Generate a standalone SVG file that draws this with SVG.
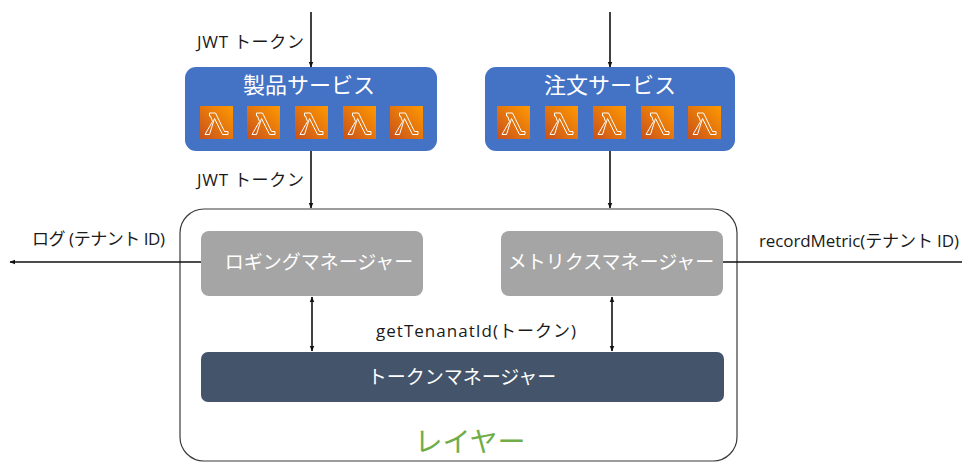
<svg xmlns="http://www.w3.org/2000/svg" xmlns:xlink="http://www.w3.org/1999/xlink" width="962" height="462" viewBox="0 0 962 462">
<style>
  text { font-family: "Noto Sans CJK JP", "Noto Sans", sans-serif; }
  .lbl { font-family: "Open Sans", "Noto Sans CJK JP", sans-serif; font-size: 17px; fill: #1a1a1a; }
  .title { font-size: 22px; fill: #ffffff; text-anchor: middle; }
  .mgr { font-size: 19px; fill: #ffffff; text-anchor: middle; }
  .svc { fill: #4472C4; }
  .gray { fill: #A5A5A5; }
  .dark { fill: #44546A; }
  .conn { stroke: #111111; stroke-width: 1.6; fill: none; }
  .layer { fill: #ffffff; stroke: #3a3a3a; stroke-width: 1.2; }
</style>
<defs>
  <marker id="ah" viewBox="0 0 10 10" refX="9" refY="5" markerWidth="6" markerHeight="6" orient="auto-start-reverse" markerUnits="userSpaceOnUse">
    <path d="M0,1 L10,5 L0,9 Z" fill="#111111"/>
  </marker>
  <linearGradient id="lg" x1="0" y1="1" x2="1" y2="0">
    <stop offset="0" stop-color="#C8511B"/>
    <stop offset="1" stop-color="#FF9900"/>
  </linearGradient>
  <g id="lambda">
    <rect x="0" y="0" width="33" height="33" fill="url(#lg)"/>
    <path d="M9.5,7 H15.5 L24.5,25.5 H28 V28.5 H22.5 L14.5,12.5 L9.5,28.5 H5 L12.5,15.5 L10.5,10 H9.5 Z" fill="none" stroke="#ffffff" stroke-width="1" stroke-linejoin="round"/>
  </g>
</defs>

<g id="layer">
  <rect class="layer" x="180" y="209" width="557" height="252" rx="24"/>
  <text x="470" y="452" font-size="28" fill="#70AD47" text-anchor="middle">レイヤー</text>
</g>

<g id="product-service">
  <rect class="svc" x="185" y="67" width="252" height="84" rx="11"/>
  <text class="title" x="309" y="93">製品サービス</text>
  <use xlink:href="#lambda" x="200" y="106"/>
  <use xlink:href="#lambda" x="247" y="106"/>
  <use xlink:href="#lambda" x="295" y="106"/>
  <use xlink:href="#lambda" x="343" y="106"/>
  <use xlink:href="#lambda" x="390" y="106"/>
</g>

<g id="order-service">
  <rect class="svc" x="485" y="67" width="250" height="84" rx="11"/>
  <text class="title" x="610" y="93">注文サービス</text>
  <use xlink:href="#lambda" x="497" y="106"/>
  <use xlink:href="#lambda" x="545" y="106"/>
  <use xlink:href="#lambda" x="593" y="106"/>
  <use xlink:href="#lambda" x="641" y="106"/>
  <use xlink:href="#lambda" x="688" y="106"/>
</g>

<g id="logging-manager">
  <rect class="gray" x="201" y="231" width="222" height="65" rx="8"/>
  <text class="mgr" x="319" y="269">ロギングマネージャー</text>
</g>

<g id="metrics-manager">
  <rect class="gray" x="501" y="231" width="222" height="65" rx="8"/>
  <text class="mgr" x="611" y="269">メトリクスマネージャー</text>
</g>

<g id="token-manager">
  <rect class="dark" x="201" y="352" width="523" height="50" rx="7"/>
  <text class="mgr" x="462" y="384">トークンマネージャー</text>
</g>

<g id="connectors">
  <line class="conn" x1="311" y1="12" x2="311" y2="67" marker-end="url(#ah)"/>
  <line class="conn" x1="610" y1="12" x2="610" y2="67" marker-end="url(#ah)"/>
  <line class="conn" x1="311" y1="151" x2="311" y2="208" marker-end="url(#ah)"/>
  <line class="conn" x1="610" y1="151" x2="610" y2="208" marker-end="url(#ah)"/>
  <line class="conn" x1="312" y1="297" x2="312" y2="351" marker-start="url(#ah)" marker-end="url(#ah)"/>
  <line class="conn" x1="612" y1="297" x2="612" y2="351" marker-start="url(#ah)" marker-end="url(#ah)"/>
  <line class="conn" x1="201" y1="262" x2="10" y2="262" marker-end="url(#ah)"/>
  <line class="conn" x1="723" y1="262" x2="962" y2="262"/>
</g>

<g id="labels">
  <text class="lbl" x="197" y="48" textLength="107" lengthAdjust="spacing">JWT トークン</text>
  <text class="lbl" x="197" y="186" textLength="107" lengthAdjust="spacing">JWT トークン</text>
  <text class="lbl" x="32" y="245" textLength="133" lengthAdjust="spacing">ログ (テナント ID)</text>
  <text class="lbl" x="759" y="247" textLength="200" lengthAdjust="spacing">recordMetric(テナント ID)</text>
  <text class="lbl" x="376" y="337" textLength="200" lengthAdjust="spacing">getTenanatId(トークン)</text>
</g>
</svg>
